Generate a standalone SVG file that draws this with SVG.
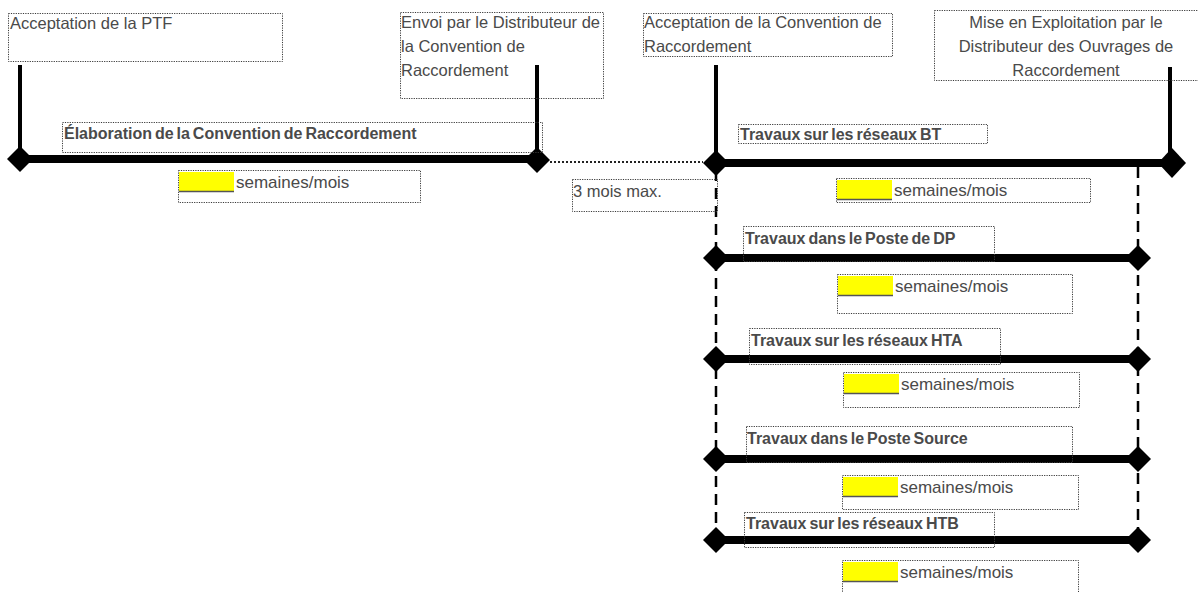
<svg xmlns="http://www.w3.org/2000/svg" xmlns:xlink="http://www.w3.org/1999/xlink" width="1198" height="592" viewBox="0 0 1198 592">
<style>
.box{fill:none;stroke:#3a3a3a;stroke-width:1;stroke-dasharray:1.2 1.2}
.t{font-family:"Liberation Sans",Arial,sans-serif;font-size:16.5px;fill:#4a4a4a}
.b{font-family:"Liberation Sans",Arial,sans-serif;font-size:16px;font-weight:bold;fill:#4a4a4a;word-spacing:-1.5px}
.s{font-family:"Liberation Sans",Arial,sans-serif;font-size:17px;fill:#4a4a4a}
.hl{fill:#ffff00}
.ul{stroke:#555;stroke-width:1.5}
.bar{stroke:#000;stroke-width:8;fill:none}
.stem{stroke:#000;stroke-width:4;fill:none}
.dash{stroke:#000;stroke-width:2.5;stroke-dasharray:11 7;fill:none}
.dot{stroke:#222;stroke-width:2;stroke-dasharray:2 2;fill:none}
</style>
<defs>
<path id="dia" d="M-13,0 L0,-13 L13,0 L0,13 Z" fill="#000"/>
<path id="diaL" d="M-14,0 L0,-15 L14,0 L0,15 Z" fill="#000"/>
</defs>
<rect width="1198" height="592" fill="#fff"/>

<g id="connectors">
<line class="stem" x1="20" y1="65" x2="20" y2="159"/>
<line class="stem" x1="537" y1="65" x2="537" y2="159"/>
<line class="stem" x1="716" y1="65" x2="716" y2="163"/>
<line class="stem" x1="1170" y1="67" x2="1170" y2="163"/>
<line class="bar" x1="20" y1="159" x2="537" y2="159"/>
<line class="dot" x1="550" y1="162" x2="703" y2="162"/>
<line class="bar" x1="716" y1="163" x2="1172" y2="163"/>
<line class="dash" x1="716" y1="170" x2="716" y2="540"/>
<line class="dash" x1="1138" y1="167" x2="1138" y2="540"/>
<line class="bar" x1="716" y1="258" x2="1138" y2="258"/>
<line class="bar" x1="716" y1="359" x2="1138" y2="359"/>
<line class="bar" x1="716" y1="459" x2="1138" y2="459"/>
<line class="bar" x1="716" y1="540" x2="1138" y2="540"/>
<use xlink:href="#dia" x="20" y="159"/>
<use xlink:href="#dia" x="537" y="160"/>
<use xlink:href="#dia" x="716" y="163"/>
<use xlink:href="#diaL" x="1172" y="163"/>
<use xlink:href="#dia" x="716" y="258"/>
<use xlink:href="#dia" x="1138" y="258"/>
<use xlink:href="#dia" x="716" y="359"/>
<use xlink:href="#dia" x="1138" y="359"/>
<use xlink:href="#dia" x="716" y="459"/>
<use xlink:href="#dia" x="1138" y="459"/>
<use xlink:href="#dia" x="716" y="540"/>
<use xlink:href="#dia" x="1138" y="540"/>
</g>

<g id="ptf">
<rect class="box" x="8.5" y="13.5" width="274" height="48"/>
<text class="t" x="10" y="29">Acceptation de la PTF</text>
</g>

<g id="envoi">
<rect class="box" x="400.5" y="12.5" width="203" height="86"/>
<text class="t" x="401" y="28">Envoi par le Distributeur de</text>
<text class="t" x="401" y="52">la Convention de</text>
<text class="t" x="401" y="76">Raccordement</text>
</g>

<g id="acceptation-convention">
<rect class="box" x="643.5" y="13.5" width="249" height="43"/>
<text class="t" x="644" y="28">Acceptation de la Convention de</text>
<text class="t" x="644" y="52">Raccordement</text>
</g>

<g id="mise-en-exploitation">
<rect class="box" x="934.5" y="10.5" width="270" height="70"/>
<text class="t" x="1066" y="28" text-anchor="middle">Mise en Exploitation par le</text>
<text class="t" x="1066" y="52" text-anchor="middle">Distributeur des Ouvrages de</text>
<text class="t" x="1066" y="76" text-anchor="middle">Raccordement</text>
</g>

<g id="elaboration">
<rect class="box" x="62.5" y="122.5" width="480" height="30"/>
<text class="b" x="64" y="139">Élaboration de la Convention de Raccordement</text>
</g>

<g id="duree-elaboration">
<rect class="box" x="178.5" y="170.5" width="242" height="32"/>
<rect class="hl" x="179" y="172" width="55" height="20"/>
<line class="ul" x1="179" y1="191.5" x2="234" y2="191.5"/>
<text class="s" x="236" y="188">semaines/mois</text>
</g>

<g id="trois-mois">
<rect class="box" x="572.5" y="179.5" width="145" height="32"/>
<text class="t" x="573" y="197">3 mois max.</text>
</g>

<g id="travaux-bt">
<rect class="box" x="738.5" y="124.5" width="249" height="19"/>
<text class="b" x="740" y="140">Travaux sur les réseaux BT</text>
</g>
<g id="duree-bt">
<rect class="box" x="836.5" y="178.5" width="254" height="24"/>
<rect class="hl" x="837" y="180" width="55" height="20"/>
<line class="ul" x1="837" y1="199.5" x2="892" y2="199.5"/>
<text class="s" x="894" y="196">semaines/mois</text>
</g>

<g id="travaux-dp">
<rect class="box" x="743.5" y="226.5" width="251" height="35"/>
<text class="b" x="745" y="244">Travaux dans le Poste de DP</text>
</g>
<g id="duree-dp">
<rect class="box" x="837.5" y="274.5" width="235" height="39"/>
<rect class="hl" x="838" y="276" width="55" height="20"/>
<line class="ul" x1="838" y1="295.5" x2="893" y2="295.5"/>
<text class="s" x="895" y="292">semaines/mois</text>
</g>

<g id="travaux-hta">
<rect class="box" x="749.5" y="328.5" width="251" height="36"/>
<text class="b" x="751" y="346">Travaux sur les réseaux HTA</text>
</g>
<g id="duree-hta">
<rect class="box" x="843.5" y="372.5" width="236" height="35"/>
<rect class="hl" x="844" y="374" width="55" height="20"/>
<line class="ul" x1="844" y1="393.5" x2="899" y2="393.5"/>
<text class="s" x="901" y="390">semaines/mois</text>
</g>

<g id="travaux-poste-source">
<rect class="box" x="746.5" y="426.5" width="326" height="36"/>
<text class="b" x="747" y="444">Travaux dans le Poste Source</text>
</g>
<g id="duree-poste-source">
<rect class="box" x="842.5" y="475.5" width="236" height="34"/>
<rect class="hl" x="843" y="477" width="55" height="20"/>
<line class="ul" x1="843" y1="496.5" x2="898" y2="496.5"/>
<text class="s" x="900" y="493">semaines/mois</text>
</g>

<g id="travaux-htb">
<rect class="box" x="744.5" y="512.5" width="250" height="35"/>
<text class="b" x="746" y="529">Travaux sur les réseaux HTB</text>
</g>
<g id="duree-htb">
<rect class="box" x="842.5" y="560.5" width="236" height="40"/>
<rect class="hl" x="843" y="562" width="55" height="20"/>
<line class="ul" x1="843" y1="581.5" x2="898" y2="581.5"/>
<text class="s" x="900" y="578">semaines/mois</text>
</g>
</svg>
